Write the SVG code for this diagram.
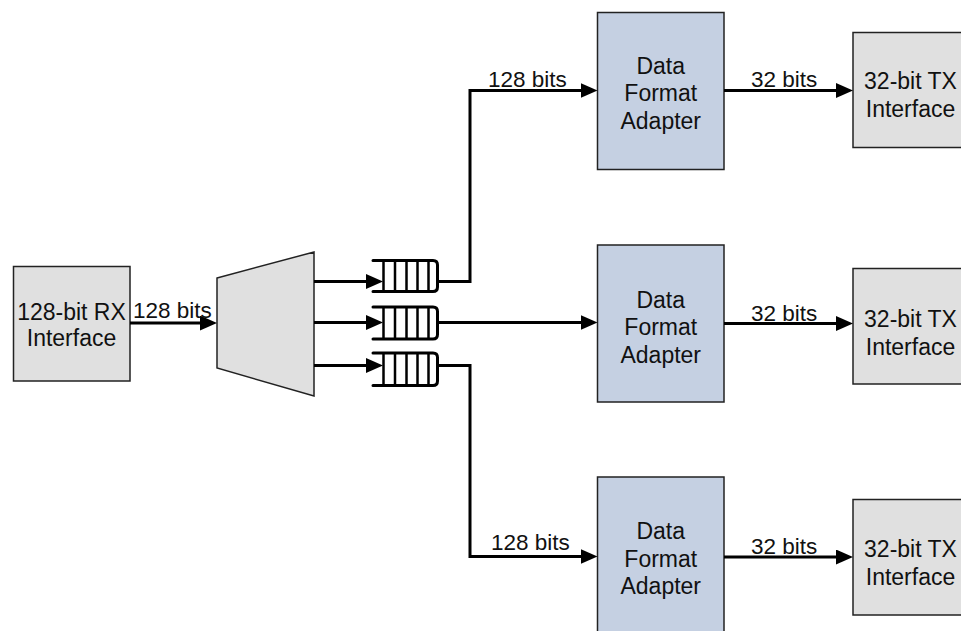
<svg xmlns="http://www.w3.org/2000/svg" width="961" height="631" viewBox="0 0 961 631">
<style>
  .box{stroke:#222;stroke-width:1.5}
  .gray{fill:#e0e0e0}
  .blue{fill:#c5d0e2}
  .t{font-family:"Liberation Sans",Arial,sans-serif;font-size:23px;fill:#111;text-anchor:middle}
  .lbl{font-family:"Liberation Sans",Arial,sans-serif;font-size:22.5px;fill:#111}
  .wire{fill:none;stroke:#000;stroke-width:3}
  .fifo{fill:none;stroke:#000;stroke-width:3;stroke-linecap:round;stroke-linejoin:round}
  .div{stroke:#000;stroke-width:2.5}
</style>
<defs>
  <marker id="arr" markerUnits="userSpaceOnUse" markerWidth="18" markerHeight="16" refX="8" refY="7.5" orient="auto">
    <path d="M0,0 L17,7.5 L0,15 Z" fill="#000"/>
  </marker>
</defs>

<g id="rx">
  <rect class="box gray" x="13.5" y="266.5" width="116.5" height="114.5"/>
  <text class="t" x="71.5" y="320">128-bit RX</text>
  <text class="t" x="71.5" y="345.5">Interface</text>
</g>

<g id="demux">
  <polygon class="box gray" points="217,278 314,252 314,396 217,368"/>
</g>

<g id="fifo1">
  <path class="fifo" d="M373,260.5 H433 Q437.5,260.5 437.5,265 V287 Q437.5,291.5 433,291.5 H373"/>
  <path class="div" d="M383.5,260.5 V291.5 M395,260.5 V291.5 M406.5,260.5 V291.5 M417.5,260.5 V291.5 M428.5,260.5 V291.5"/>
</g>
<g id="fifo2">
  <path class="fifo" d="M373,307 H433 Q437.5,307 437.5,311.5 V334.5 Q437.5,339 433,339 H373"/>
  <path class="div" d="M383.5,307 V339 M395,307 V339 M406.5,307 V339 M417.5,307 V339 M428.5,307 V339"/>
</g>
<g id="fifo3">
  <path class="fifo" d="M373,353 H433 Q437.5,353 437.5,357.5 V381 Q437.5,385.5 433,385.5 H373"/>
  <path class="div" d="M383.5,353 V385.5 M395,353 V385.5 M406.5,353 V385.5 M417.5,353 V385.5 M428.5,353 V385.5"/>
</g>

<g id="dfa1">
  <rect class="box blue" x="597.5" y="12.5" width="126.5" height="157"/>
  <text class="t" x="660.75" y="73.5">Data</text>
  <text class="t" x="660.75" y="101">Format</text>
  <text class="t" x="660.75" y="128.5">Adapter</text>
</g>
<g id="dfa2">
  <rect class="box blue" x="597.5" y="245" width="126.5" height="157"/>
  <text class="t" x="660.75" y="307.5">Data</text>
  <text class="t" x="660.75" y="335">Format</text>
  <text class="t" x="660.75" y="362.5">Adapter</text>
</g>
<g id="dfa3">
  <rect class="box blue" x="597.5" y="477" width="126.5" height="157"/>
  <text class="t" x="660.75" y="539">Data</text>
  <text class="t" x="660.75" y="566.5">Format</text>
  <text class="t" x="660.75" y="594">Adapter</text>
</g>

<g id="tx1">
  <rect class="box gray" x="853" y="32.5" width="117" height="115"/>
  <text class="t" x="910.5" y="89">32-bit TX</text>
  <text class="t" x="910.5" y="117">Interface</text>
</g>
<g id="tx2">
  <rect class="box gray" x="853" y="268.5" width="117" height="115.5"/>
  <text class="t" x="910.5" y="327">32-bit TX</text>
  <text class="t" x="910.5" y="355">Interface</text>
</g>
<g id="tx3">
  <rect class="box gray" x="853" y="499.5" width="117" height="115.5"/>
  <text class="t" x="910.5" y="556.5">32-bit TX</text>
  <text class="t" x="910.5" y="585">Interface</text>
</g>

<g id="connectors">
  <path class="wire" d="M130,323 H208" marker-end="url(#arr)"/>
  <path class="wire" d="M314,281.5 H374" marker-end="url(#arr)"/>
  <path class="wire" d="M314,322.5 H374" marker-end="url(#arr)"/>
  <path class="wire" d="M314,365.5 H374" marker-end="url(#arr)"/>
  <path class="wire" d="M437.5,281.5 H470 V90.5 H588.5" marker-end="url(#arr)"/>
  <path class="wire" d="M437.5,322.5 H588.5" marker-end="url(#arr)"/>
  <path class="wire" d="M437.5,365.5 H470 V556.5 H588.5" marker-end="url(#arr)"/>
  <path class="wire" d="M724,90.5 H844" marker-end="url(#arr)"/>
  <path class="wire" d="M724,323.5 H844" marker-end="url(#arr)"/>
  <path class="wire" d="M724,557 H844" marker-end="url(#arr)"/>
  <text class="lbl" x="133" y="317.5">128 bits</text>
  <text class="lbl" x="488" y="87">128 bits</text>
  <text class="lbl" x="491" y="549.5">128 bits</text>
  <text class="lbl" x="751" y="87">32 bits</text>
  <text class="lbl" x="751" y="321">32 bits</text>
  <text class="lbl" x="751" y="553.5">32 bits</text>
</g>
</svg>
